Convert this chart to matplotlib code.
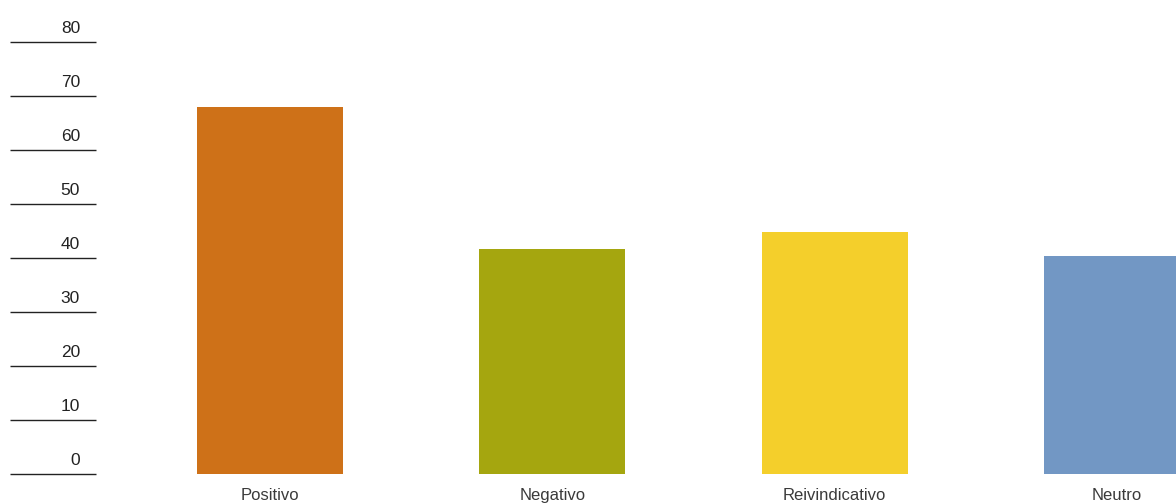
import numpy as np
import matplotlib
matplotlib.use("Agg")
import matplotlib.pyplot as plt
import matplotlib.transforms as mtransforms

plt.rcParams['font.family'] = ['Liberation Sans', 'DejaVu Sans']

# data
categories = ["Positivo", "Negativo", "Reivindicativo", "Neutro"]
values = [68.0, 41.7, 44.8, 40.4]
colors = ["#CE7118", "#A5A60F", "#F4CF2B", "#7297C4"]
yticks = [0, 10, 20, 30, 40, 50, 60, 70, 80]

W, H = 1176, 503
fig = plt.figure(figsize=(W / 100, H / 100), dpi=100)

# axes placed so that y=0 sits at px 474 and y=80 at px 42
ax = fig.add_axes([0, (H - 474) / H, 1, (474 - 42) / H])
ax.set_ylim(0, 80)

# category centres at px 270 and 1117
step = (1117 - 270) / 3
ax.set_xlim(-270 / step, 3 + (W - 1117) / step)

x = np.arange(len(categories))
ax.bar(x, values, width=146 / step, color=colors, clip_on=False)

for s in ax.spines.values():
    s.set_visible(False)
ax.set_yticks([])
ax.set_xticks(x)
ax.set_xticklabels(categories, fontsize=12, color="#3a3a3a")
ax.tick_params(axis="x", length=0, pad=10)
ax.patch.set_alpha(0)

# short rules + labels on the left
trans = mtransforms.blended_transform_factory(fig.transFigure, ax.transData)
ax.hlines(yticks, 10 / W, 96 / W, transform=trans, color="#222222",
          linewidth=1.0, clip_on=False)
for t in yticks:
    ax.annotate(str(t), xy=(80 / W, t), xycoords=trans,
                xytext=(0, 4.5), textcoords="offset points",
                ha="right", va="bottom", fontsize=12.5, color="#222222",
                annotation_clip=False)

fig.savefig("out.png", dpi=100)
